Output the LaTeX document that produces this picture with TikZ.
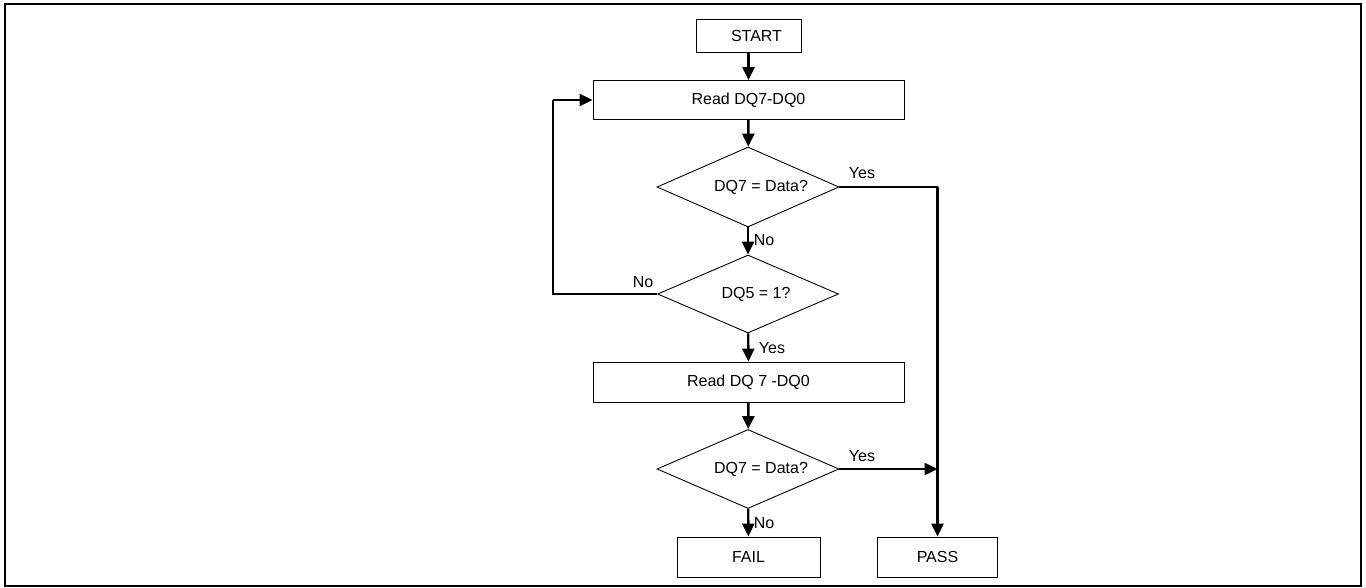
\documentclass[tikz,border=0pt]{standalone}
\usepackage{fontspec}
\setmainfont{Liberation Sans}
\usetikzlibrary{shapes.geometric,arrows.meta}

\begin{document}
\begin{tikzpicture}[x=1pt,y=-1pt,
	font=\fontsize{16}{19}\selectfont,
	box/.style={draw=black,line width=0.9pt,inner sep=0pt},
	test/.style={draw=black,diamond,aspect=2.3,line width=0.9pt,inner sep=0pt},
	arr/.style={line width=2.4pt,-{Triangle[length=13pt,width=12pt]}},
	thinline/.style={line width=1.2pt}]
	\useasboundingbox (0,0) rectangle (1366,588);
	\draw [line width=2pt] (5,4) rectangle (1361,586);
	% boxes and tests
	\node [box,minimum width=105pt,minimum height=33pt] (start) at (748.5,36) {\hspace*{16pt}START};
	\node [box,minimum width=311pt,minimum height=39pt] (read1) at (748.5,100) {Read DQ7-DQ0};
	\node [test,minimum width=182pt,minimum height=80pt] (dq7a) at (748,187) {\hspace*{26pt}DQ7 = Data?};
	\node [test,minimum width=181pt,minimum height=78pt] (dq5) at (748,294) {\hspace*{16pt}DQ5 = 1?};
	\node [box,minimum width=311pt,minimum height=40pt] (read2) at (748.5,382) {Read DQ 7 -DQ0};
	\node [test,minimum width=182pt,minimum height=79pt] (dq7b) at (748,469) {\hspace*{26pt}DQ7 = Data?};
	\node [box,minimum width=143pt,minimum height=40pt] (fail) at (748.5,557) {FAIL};
	\node [box,minimum width=120pt,minimum height=40pt] (pass) at (937.5,557) {PASS};
	% corners
	\coordinate (yestop) at (pass.north |- dq7a.east);
	\coordinate (yesmid) at (pass.north |- dq7b.east);
	\coordinate (loopbot) at (553,294);
	\coordinate (looptop) at (553,100);
	% connectors
	\draw [arr] (start) -- (read1);
	\draw [arr] (read1) -- (dq7a);
	\draw [arr] (dq7a) -- (dq5);
	\draw [arr] (dq5) -- (read2);
	\draw [arr] (read2) -- (dq7b);
	\draw [arr] (dq7b) -- (fail);
	\draw [thinline] (dq7a.east) -- (yestop);
	\draw [arr] (yestop) -- (pass.north);
	\draw [arr] (dq7b.east) -- (yesmid);
	\draw [thinline] (dq5.west) -- (loopbot) -- (looptop);
	\draw [arr] (looptop) -- (read1.west);
	% labels
	\node (yes1) at (862,173) {Yes};
	\node (no1) at (764,240) {No};
	\node (no2) at (643,282) {No};
	\node (yes2) at (772,348) {Yes};
	\node (yes3) at (862,456) {Yes};
	\node (no3) at (764,523) {No};
\end{tikzpicture}
\end{document}
